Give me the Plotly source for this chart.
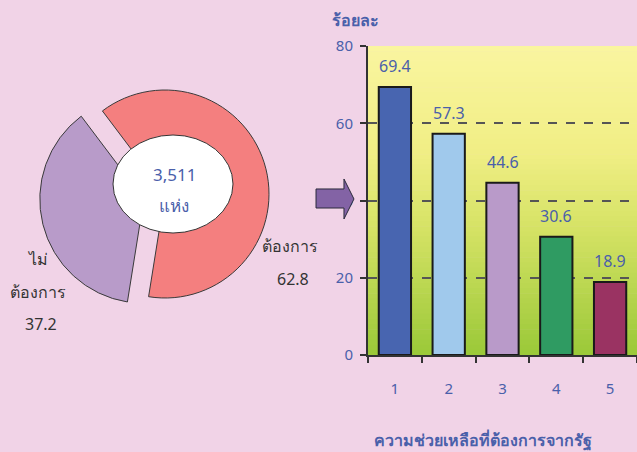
import plotly.graph_objects as go

# ---- data ----
pie_labels = ["ต้องการ", "ไม่ต้องการ"]
pie_values = [62.8, 37.2]
pie_colors = ["#f47f7f", "#b89bc9"]
center_number = "3,511"
center_unit = "แห่ง"

bar_categories = ["1", "2", "3", "4", "5"]
bar_values = [69.4, 57.3, 44.6, 30.6, 18.9]
bar_colors = ["#4865b0", "#a0c9ec", "#b99ac9", "#2f9b62", "#9a3362"]
y_ticks = [0, 20, 40, 60, 80]
y_title = "ร้อยละ"
x_title = "ความช่วยเหลือที่ต้องการจากรัฐ"

W, H = 637, 452
BG = "#f1d3e7"
BLUE = "#4a60aa"
DARK = "#333333"
FONT = "Noto Sans, Tahoma, sans-serif"


def px(x):
    return x / W


def py(y):
    return 1 - y / H


fig = go.Figure()

# ---- donut-like pie ----
cx, cy, r, pull = 165, 194, 104, 0.21
half = r * (1 + pull)
fig.add_trace(go.Pie(
    labels=pie_labels, values=pie_values, sort=False, direction="clockwise",
    rotation=-37, pull=[0, pull], hole=0,
    marker=dict(colors=pie_colors, line=dict(color="#3a3a3a", width=1)),
    textinfo="none", hoverinfo="label+value", showlegend=False,
    domain=dict(x=[px(cx - half), px(cx + half)], y=[py(cy + half), py(cy - half)]),
))

# ---- bar chart ----
fig.add_trace(go.Bar(
    x=bar_categories, y=bar_values, width=0.6,
    marker=dict(color=bar_colors, line=dict(color="#1a1a1a", width=2)),
    showlegend=False, hoverinfo="x+y", xaxis="x", yaxis="y",
))

x0, x1, y0, y1 = 368, 637, 46, 355
fig.update_layout(
    width=W, height=H, margin=dict(l=0, r=0, t=0, b=0, pad=0, autoexpand=False),
    paper_bgcolor=BG, plot_bgcolor="rgba(0,0,0,0)",
    font=dict(family=FONT, color=BLUE, size=15),
    xaxis=dict(domain=[px(x0), px(x1)], type="category", tickson="boundaries",
               ticks="outside", ticklen=6, tickcolor="#333", tickwidth=1.5,
               showline=True, linecolor="#333", linewidth=2, showgrid=False,
               tickfont=dict(color=BLUE, size=15), ticklabelstandoff=19,
               range=[-0.5, 4.5], automargin=False, fixedrange=True),
    yaxis=dict(domain=[py(y1), py(y0)], range=[0, 80], tickvals=y_ticks,
               ticks="outside", ticklen=6, tickcolor="#333", tickwidth=1.5,
               showline=True, linecolor="#333", linewidth=2,
               showgrid=True, gridcolor="#555555", gridwidth=1.5, griddash="dash",
               zeroline=False, tickfont=dict(color=BLUE, size=15),
               ticklabelstandoff=4, automargin=False, fixedrange=True),
    bargap=0.4,
)

# gradient background of plot area (decoration)
stops = [(0.0, (250, 245, 160)), (0.35, (240, 238, 132)), (0.6, (212, 226, 100)), (1.0, (154, 200, 56))]
nb = 60
shapes = []
for i in range(nb):
    t = (i + 0.5) / nb  # 0 top, 1 bottom
    for j in range(len(stops) - 1):
        if stops[j][0] <= t <= stops[j + 1][0]:
            a, ca = stops[j]
            b, cb = stops[j + 1]
            f = (t - a) / (b - a)
            c = tuple(int(round(ca[k] + (cb[k] - ca[k]) * f)) for k in range(3))
            break
    shapes.append(dict(type="rect", xref="x domain", yref="y domain",
                       x0=0, x1=1, y0=1 - (i + 1) / nb - 0.002, y1=1 - i / nb,
                       fillcolor="rgb(%d,%d,%d)" % c, line=dict(width=0), layer="below"))

# white ellipse in donut centre
shapes.append(dict(type="circle", xref="paper", yref="paper",
                   x0=px(113), x1=px(233), y0=py(233), y1=py(135),
                   fillcolor="white", line=dict(color="#333", width=1), layer="above"))

# arrow
ax = [316, 344, 344, 354, 344, 344, 316]
ay = [189, 189, 179, 199, 219, 208, 208]
path = "M " + " L ".join("%.4f %.4f" % (px(a), py(b)) for a, b in zip(ax, ay)) + " Z"
shapes.append(dict(type="path", xref="paper", yref="paper", path=path,
                   fillcolor="#8363a5", line=dict(color="#2a2a3a", width=1)))
fig.update_layout(shapes=shapes)

ann = []
for i, v in enumerate(bar_values):
    ann.append(dict(x=i, y=v, xref="x", yref="y", text=f"{v}", showarrow=False,
                    xanchor="center", yanchor="bottom", yshift=8,
                    font=dict(color=BLUE, size=16)))


def lab(x, y, text, color, size=16):
    return dict(x=px(x), y=py(y), xref="paper", yref="paper", text=text,
                showarrow=False, xanchor="center", yanchor="middle",
                font=dict(color=color, size=size))


ann += [
    lab(174, 174, center_number, BLUE, 17),
    lab(174, 206, center_unit, BLUE, 17),
    lab(37, 259, "ไม่", DARK),
    lab(38, 292, "ต้องการ", DARK),
    lab(41, 324, f"{pie_values[1]}", DARK),
    lab(290, 246, pie_labels[0], DARK),
    lab(293, 279, f"{pie_values[0]}", DARK),
    lab(355, 20, f"<b>{y_title}</b>", BLUE),
    lab(483, 440, f"<b>{x_title}</b>", BLUE),
]
fig.update_layout(annotations=ann)

fig.write_html("out.html", config={"displayModeBar": False},
               post_script="document.body.style.margin='0';document.body.style.overflow='hidden';")
